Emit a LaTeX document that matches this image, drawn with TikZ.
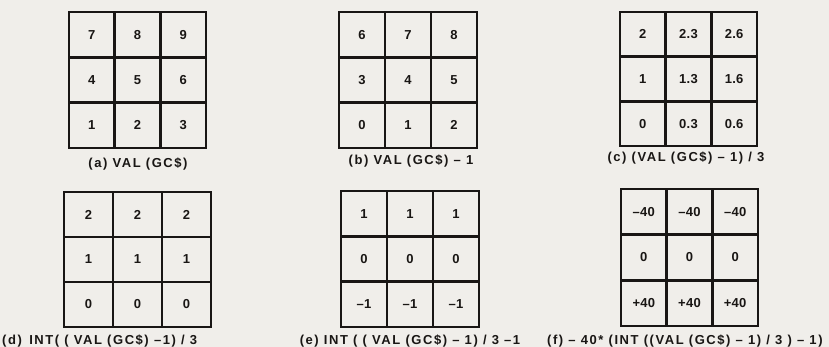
\documentclass[tikz,border=0pt]{standalone}
\usepackage{fontspec}
\setmainfont{Liberation Sans}
\newfontfamily\capfont[LetterSpace=12]{Liberation Sans}
\newfontfamily\cellfont[LetterSpace=2]{Liberation Sans}
\definecolor{bgcol}{RGB}{240,238,234}
\definecolor{inkcol}{RGB}{25,22,20}
\tikzset{
  cell/.style={draw=inkcol, line width=2.6pt, inner sep=0pt, text=inkcol,
    font=\cellfont\bfseries\fontsize{13}{15}\selectfont},
  caption/.style={inner sep=0pt, text=inkcol,
    font=\capfont\bfseries\fontsize{13}{15}\selectfont}
}
\newcommand\cellgrid[6]{%
  \pgfmathsetmacro\cw{(#4-#2)/3}%
  \pgfmathsetmacro\ch{(#5-#3)/3}%
  \foreach \r/\va/\vb/\vc in {#6}{%
    \foreach \c/\v in {1/\va,2/\vb,3/\vc}{%
      \node[cell, minimum width=\cw pt, minimum height=\ch pt] (#1-\r-\c)
        at ({#2+(\c-0.5)*\cw},{#3+(\r-0.5)*\ch}) {\v};
    }
  }
}
\begin{document}
\begin{tikzpicture}[x=1pt,y=-1pt]
\fill[bgcol] (0,0) rectangle (829,347);
\useasboundingbox (0,0) rectangle (829,347);
\cellgrid{a}{69}{12}{206}{148}{1/7/8/9,2/4/5/6,3/1/2/3}
\cellgrid{b}{339}{12}{477}{148}{1/6/7/8,2/3/4/5,3/0/1/2}
\cellgrid{c}{620}{12}{757}{146}{1/2/2.3/2.6,2/1/1.3/1.6,3/0/0.3/0.6}
\cellgrid{d}{64}{192}{211}{327}{1/2/2/2,2/1/1/1,3/0/0/0}
\cellgrid{e}{341}{191}{479}{327}{1/1/1/1,2/0/0/0,3/–1/–1/–1}
\cellgrid{f}{621}{189}{758}{326}{1/–40/–40/–40,2/0/0/0,3/+40/+40/+40}
\node[caption] (capa) at (138,164) {(a) VAL (GC\$)};
\node[caption] (capb) at (411,161) {(b) VAL (GC\$) – 1};
\node[caption] (capc) at (686,158) {(c) (VAL (GC\$) – 1) / 3};
\node[caption, anchor=west] (capd) at (2,341) {(d)\, INT( ( VAL (GC\$) –1) / 3};
\node[caption] (cape) at (410,341) {(e) INT ( ( VAL (GC\$) – 1) / 3 –1};
\node[caption, anchor=west] (capf) at (547,341) {(f) – 40* (INT ((VAL (GC\$) – 1) / 3 ) – 1)};
\end{tikzpicture}
\end{document}
